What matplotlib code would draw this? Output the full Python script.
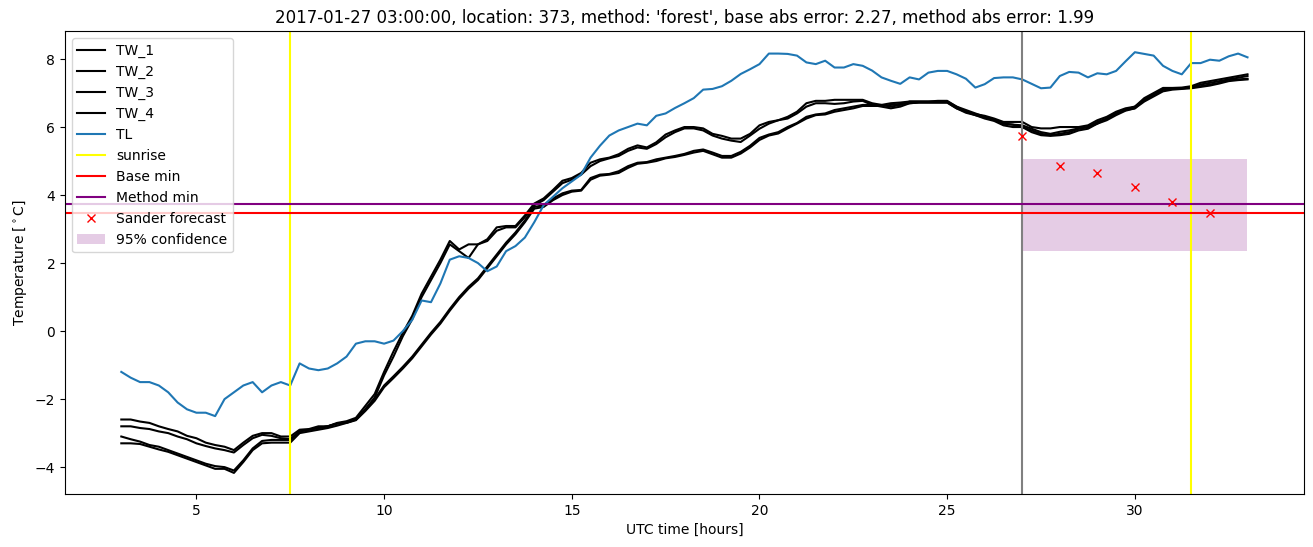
import numpy as np
from matplotlib import pyplot as plt

# time axis in hours (UTC), 15 minute steps from 03:00
hours = np.arange(3.0, 33.01, 0.25)

tl = [-1.2, -1.37, -1.5, -1.5, -1.6, -1.8, -2.1, -2.3, -2.4, -2.4, -2.5, -2.0,
      -1.8, -1.6, -1.5, -1.8, -1.6, -1.5, -1.6, -0.95, -1.1, -1.15, -1.1, -0.95,
      -0.75, -0.37, -0.3, -0.3, -0.37, -0.28, 0.0, 0.33, 0.9, 0.85, 1.4, 2.1,
      2.2, 2.15, 2.0, 1.76, 1.9, 2.35, 2.5, 2.75, 3.2, 3.7, 3.95, 4.2,
      4.4, 4.6, 5.1, 5.45, 5.75, 5.9, 6.0, 6.1, 6.05, 6.33, 6.4, 6.56,
      6.7, 6.85, 7.1, 7.12, 7.2, 7.36, 7.56, 7.7, 7.85, 8.16, 8.16, 8.15,
      8.1, 7.9, 7.85, 7.95, 7.75, 7.75, 7.85, 7.8, 7.66, 7.46, 7.36, 7.27,
      7.46, 7.4, 7.6, 7.65, 7.65, 7.55, 7.42, 7.16, 7.26, 7.44, 7.46, 7.46,
      7.4, 7.27, 7.14, 7.16, 7.5, 7.62, 7.6, 7.46, 7.58, 7.55, 7.65, 7.93,
      8.2, 8.15, 8.1, 7.8, 7.65, 7.55, 7.88, 7.88, 7.98, 7.95, 8.08, 8.16, 8.05]

tw_1 = [-2.6, -2.6, -2.66, -2.7, -2.8, -2.88, -2.95, -3.08, -3.15, -3.28, -3.35, -3.4,
        -3.5, -3.28, -3.08, -3.0, -3.0, -3.1, -3.1, -2.9, -2.88, -2.8, -2.8, -2.7,
        -2.65, -2.55, -2.2, -1.85, -1.2, -0.6, -0.05, 0.45, 1.1, 1.6, 2.1, 2.65,
        2.4, 2.55, 2.55, 2.7, 3.05, 3.09, 3.09, 3.4, 3.75, 3.9, 4.15, 4.42,
        4.5, 4.65, 4.95, 5.05, 5.1, 5.2, 5.36, 5.46, 5.4, 5.55, 5.78, 5.9,
        6.0, 6.0, 5.96, 5.8, 5.74, 5.66, 5.66, 5.8, 6.05, 6.15, 6.2, 6.3,
        6.45, 6.7, 6.77, 6.77, 6.8, 6.8, 6.8, 6.8, 6.7, 6.65, 6.6, 6.65,
        6.75, 6.75, 6.75, 6.77, 6.77, 6.6, 6.45, 6.38, 6.33, 6.25, 6.15, 6.15,
        6.15, 6.0, 5.96, 5.96, 6.0, 6.0, 6.0, 6.05, 6.2, 6.3, 6.45, 6.55,
        6.6, 6.85, 7.0, 7.15, 7.15, 7.16, 7.2, 7.3, 7.35, 7.4, 7.45, 7.5, 7.55]

tw_2 = [-2.8, -2.8, -2.85, -2.88, -2.95, -3.0, -3.1, -3.18, -3.3, -3.38, -3.45, -3.5,
        -3.57, -3.35, -3.15, -3.05, -3.08, -3.15, -3.18, -2.95, -2.9, -2.85, -2.8, -2.72,
        -2.7, -2.6, -2.3, -1.95, -1.3, -0.75, -0.15, 0.35, 1.0, 1.5, 2.0, 2.55,
        2.35, 2.15, 2.55, 2.65, 2.95, 3.05, 3.05, 3.35, 3.7, 3.85, 4.1, 4.35,
        4.45, 4.6, 4.85, 5.0, 5.08, 5.15, 5.3, 5.4, 5.36, 5.5, 5.7, 5.85,
        5.96, 5.96, 5.9, 5.75, 5.66, 5.6, 5.56, 5.75, 5.95, 6.1, 6.2, 6.25,
        6.4, 6.6, 6.7, 6.7, 6.68, 6.7, 6.75, 6.77, 6.65, 6.6, 6.55, 6.6,
        6.7, 6.72, 6.72, 6.72, 6.72, 6.55, 6.42, 6.35, 6.28, 6.2, 6.1, 6.07,
        6.0, 5.9, 5.8, 5.76, 5.8, 5.85, 5.95, 6.0, 6.15, 6.25, 6.4, 6.5,
        6.55, 6.8, 6.95, 7.1, 7.12, 7.14, 7.16, 7.25, 7.3, 7.35, 7.4, 7.45, 7.5]

tw_3 = [-3.1, -3.18, -3.25, -3.35, -3.4, -3.5, -3.6, -3.7, -3.8, -3.9, -3.97, -4.0,
        -4.1, -3.8, -3.45, -3.23, -3.2, -3.2, -3.2, -2.95, -2.9, -2.85, -2.8, -2.72,
        -2.68, -2.6, -2.3, -2.0, -1.6, -1.33, -1.05, -0.75, -0.4, -0.05, 0.27, 0.65,
        1.0, 1.3, 1.55, 1.9, 2.25, 2.6, 2.9, 3.25, 3.65, 3.7, 3.9, 4.05,
        4.13, 4.15, 4.5, 4.6, 4.62, 4.7, 4.85, 4.95, 4.97, 5.05, 5.1, 5.15,
        5.21, 5.3, 5.34, 5.25, 5.15, 5.15, 5.27, 5.45, 5.68, 5.78, 5.85, 6.0,
        6.12, 6.3, 6.37, 6.4, 6.5, 6.55, 6.6, 6.65, 6.65, 6.65, 6.7, 6.72,
        6.75, 6.75, 6.75, 6.75, 6.75, 6.6, 6.5, 6.4, 6.3, 6.22, 6.1, 6.07,
        6.05, 5.95, 5.85, 5.8, 5.86, 5.9, 5.96, 6.0, 6.1, 6.25, 6.4, 6.5,
        6.6, 6.8, 6.95, 7.1, 7.14, 7.14, 7.16, 7.2, 7.25, 7.3, 7.4, 7.4, 7.42]

tw_4 = [-3.3, -3.3, -3.32, -3.4, -3.48, -3.55, -3.65, -3.75, -3.85, -3.95, -4.05, -4.05,
        -4.17, -3.85, -3.5, -3.3, -3.28, -3.28, -3.28, -3.0, -2.95, -2.9, -2.85, -2.78,
        -2.7, -2.62, -2.35, -2.05, -1.65, -1.38, -1.1, -0.8, -0.45, -0.1, 0.22, 0.6,
        0.95, 1.25, 1.5, 1.85, 2.2, 2.55, 2.85, 3.2, 3.6, 3.65, 3.85, 4.0,
        4.1, 4.13, 4.45, 4.57, 4.6, 4.65, 4.8, 4.92, 4.95, 5.0, 5.08, 5.12,
        5.18, 5.25, 5.3, 5.2, 5.1, 5.1, 5.22, 5.4, 5.62, 5.75, 5.81, 5.96,
        6.1, 6.25, 6.35, 6.37, 6.45, 6.5, 6.55, 6.62, 6.62, 6.62, 6.65, 6.68,
        6.7, 6.72, 6.72, 6.72, 6.72, 6.55, 6.45, 6.35, 6.25, 6.18, 6.05, 6.0,
        6.0, 5.85, 5.76, 5.74, 5.76, 5.8, 5.9, 5.95, 6.1, 6.2, 6.35, 6.48,
        6.55, 6.75, 6.9, 7.05, 7.1, 7.12, 7.14, 7.18, 7.22, 7.28, 7.35, 7.38, 7.4]

sunrise = [7.5, 31.5]
forecast_start = 27.0
forecast_hours = [27, 28, 29, 30, 31, 32]
forecast = [5.74, 4.85, 4.64, 4.23, 3.81, 3.47]
conf_hours = [27, 33]
conf_low = 2.36
conf_high = 5.05
base_min = 3.46
method_min = 3.73

fig = plt.figure(figsize=(13.13, 5.47), dpi=100)
ax = fig.add_subplot(111)
fig.subplots_adjust(left=0.0495, right=0.993, top=0.943, bottom=0.097)

for name, tw in zip(['TW_1', 'TW_2', 'TW_3', 'TW_4'], [tw_1, tw_2, tw_3, tw_4]):
    ax.plot(hours, tw, c='black', label=name)
ax.plot(hours, tl, c='C0', label='TL')

ax.axvline(sunrise[0], c='yellow', label='sunrise')
ax.axvline(sunrise[1], c='yellow')
ax.axvline(forecast_start, c='gray')
ax.axhline(base_min, c='red', label='Base min')
ax.axhline(method_min, c='purple', label='Method min')
ax.plot(forecast_hours, forecast, 'x', c='red', label='Sander forecast')
ax.fill_between(conf_hours, conf_low, conf_high, facecolor='purple', alpha=0.2,
                label='95% confidence')

ax.set_title("2017-01-27 03:00:00, location: 373, method: 'forest', "
             "base abs error: 2.27, method abs error: 1.99")
ax.set_xlabel('UTC time [hours]')
ax.set_ylabel(r'Temperature [$^\circ$C]')
ax.legend(loc='upper left')

fig.savefig('out.png')
